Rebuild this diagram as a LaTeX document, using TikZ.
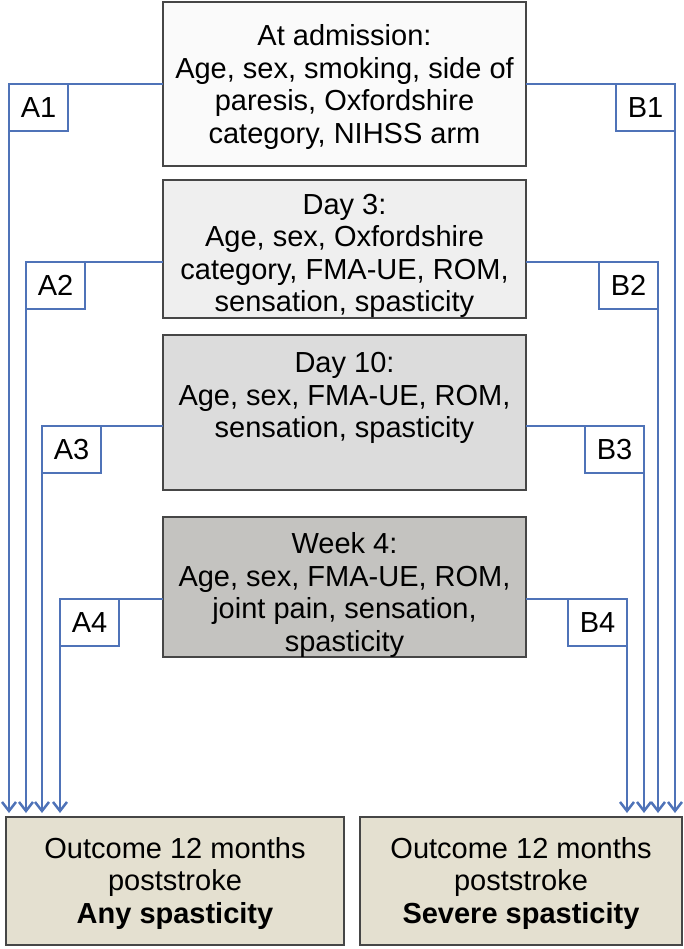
\documentclass[tikz,border=0pt]{standalone}
\usepackage{fontspec}
\setmainfont{Liberation Sans}
\usetikzlibrary{arrows.meta}
\definecolor{ln}{RGB}{79,115,184}
\definecolor{bd}{RGB}{70,70,70}
\definecolor{fa}{RGB}{250,250,250}
\definecolor{fb}{RGB}{239,239,239}
\definecolor{fc}{RGB}{220,220,220}
\definecolor{fd}{RGB}{196,195,192}
\definecolor{fo}{RGB}{228,224,208}
\begin{document}
\begin{tikzpicture}[x=1pt,y=-1pt,
 box/.style={draw=bd, line width=1.5pt, rectangle, inner sep=0pt, outer sep=0pt},
 txt/.style={align=center, font=\fontsize{29}{32.5}\selectfont, inner sep=0pt},
 lab/.style={draw=ln, line width=2.5pt, minimum width=59pt, minimum height=47pt, inner sep=0pt, outer sep=0pt, font=\fontsize{29}{32.5}\selectfont},
 conn/.style={draw=ln, line width=2.5pt, -{Straight Barb[length=9pt,width=14pt]}, shorten >=4pt}]
\useasboundingbox (0,0) rectangle (684,949);
% stage boxes
\node[box, fill=fa, minimum width=363pt, minimum height=164pt] (b1) at (344.5,84) {};
\node[box, fill=fb, minimum width=363pt, minimum height=138pt] (b2) at (344.5,249) {};
\node[box, fill=fc, minimum width=363pt, minimum height=155pt] (b3) at (344.5,412.5) {};
\node[box, fill=fd, minimum width=363pt, minimum height=140pt] (b4) at (344.5,587) {};
\node[txt] (t1) at (344.5,87) {At admission:\\Age, sex, smoking, side of\\paresis, Oxfordshire\\category, NIHSS arm};
\node[txt] (t2) at (344.5,256) {Day 3:\\Age, sex, Oxfordshire\\category, FMA-UE, ROM,\\sensation, spasticity};
\node[txt] (t3) at (344.5,398) {Day 10:\\Age, sex, FMA-UE, ROM,\\sensation, spasticity};
\node[txt] (t4) at (344.5,595) {Week 4:\\Age, sex, FMA-UE, ROM,\\joint pain, sensation,\\spasticity};
% outcome boxes
\node[box, fill=fo, minimum width=338pt, minimum height=128pt] (oA) at (175,881) {};
\node[box, fill=fo, minimum width=322pt, minimum height=128pt] (oB) at (521,881) {};
\node[txt] (toA) at (175,883) {Outcome 12 months\\poststroke\\\textbf{Any spasticity}};
\node[txt] (toB) at (521,883) {Outcome 12 months\\poststroke\\\textbf{Severe spasticity}};
% labels
\node[lab, anchor=north west] (a1) at (9,84) {A1};
\node[lab, anchor=north west] (a2) at (26,262) {A2};
\node[lab, anchor=north west] (a3) at (42,426) {A3};
\node[lab, anchor=north west] (a4) at (60,599) {A4};
\node[lab, anchor=north east] (c1) at (675,84) {B1};
\node[lab, anchor=north east] (c2) at (658,262) {B2};
\node[lab, anchor=north east] (c3) at (644,426) {B3};
\node[lab, anchor=north east] (c4) at (627,599) {B4};
% connectors
\draw[conn] (b1.west |- a1.north) -- (a1.north west) -- (a1.north west |- oA.north);
\draw[conn] (b2.west |- a2.north) -- (a2.north west) -- (a2.north west |- oA.north);
\draw[conn] (b3.west |- a3.north) -- (a3.north west) -- (a3.north west |- oA.north);
\draw[conn] (b4.west |- a4.north) -- (a4.north west) -- (a4.north west |- oA.north);
\draw[conn] (b1.east |- c1.north) -- (c1.north east) -- (c1.north east |- oB.north);
\draw[conn] (b2.east |- c2.north) -- (c2.north east) -- (c2.north east |- oB.north);
\draw[conn] (b3.east |- c3.north) -- (c3.north east) -- (c3.north east |- oB.north);
\draw[conn] (b4.east |- c4.north) -- (c4.north east) -- (c4.north east |- oB.north);
\end{tikzpicture}
\end{document}
